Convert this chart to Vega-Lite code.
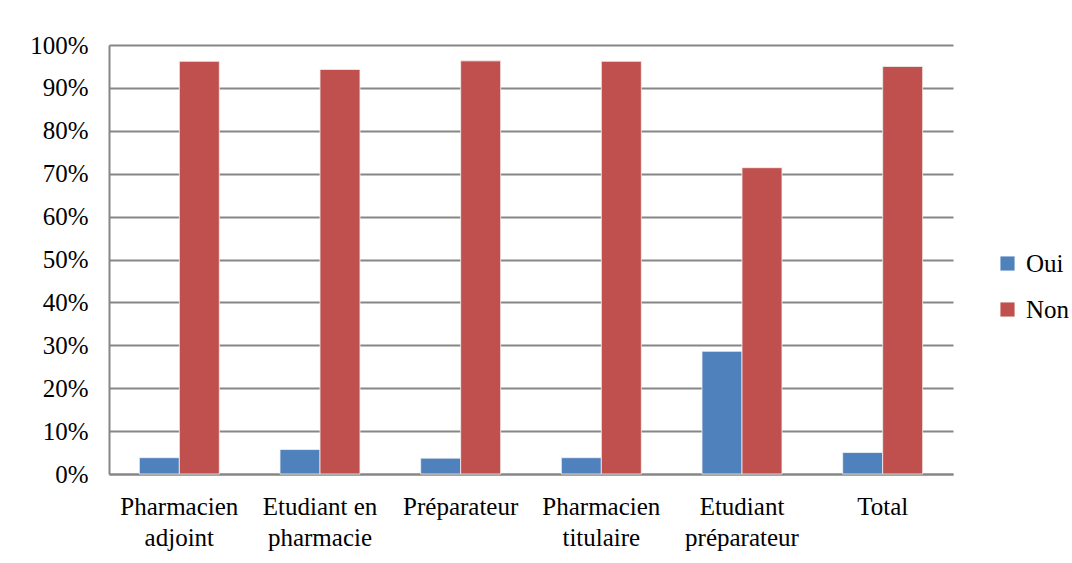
{
  "$schema": "https://vega.github.io/schema/vega-lite/v6.json",
  "autosize": "none",
  "width": 844,
  "height": 429,
  "padding": {"left": 109, "top": 45, "right": 119, "bottom": 89},
  "background": "white",
  "data": {
    "values": [
      {"categorie": "Pharmacien adjoint", "reponse": "Oui", "pct": 0.038},
      {"categorie": "Pharmacien adjoint", "reponse": "Non", "pct": 0.962},
      {"categorie": "Etudiant en pharmacie", "reponse": "Oui", "pct": 0.057},
      {"categorie": "Etudiant en pharmacie", "reponse": "Non", "pct": 0.943},
      {"categorie": "Préparateur", "reponse": "Oui", "pct": 0.037},
      {"categorie": "Préparateur", "reponse": "Non", "pct": 0.963},
      {"categorie": "Pharmacien titulaire", "reponse": "Oui", "pct": 0.038},
      {"categorie": "Pharmacien titulaire", "reponse": "Non", "pct": 0.962},
      {"categorie": "Etudiant préparateur", "reponse": "Oui", "pct": 0.286},
      {"categorie": "Etudiant préparateur", "reponse": "Non", "pct": 0.714},
      {"categorie": "Total", "reponse": "Oui", "pct": 0.050},
      {"categorie": "Total", "reponse": "Non", "pct": 0.950}
    ]
  },
  "mark": {"type": "bar", "stroke": "#f2f2f2", "strokeWidth": 0.8},
  "encoding": {
    "x": {
      "field": "categorie",
      "type": "nominal",
      "sort": null,
      "title": null,
      "scale": {"paddingInner": 0.4314, "paddingOuter": 0.2157},
      "axis": {
        "labelAngle": 0,
        "labelExpr": "datum.value == 'Etudiant en pharmacie' ? ['Etudiant en', 'pharmacie'] : split(datum.value, ' ')",
        "labelLineHeight": 31,
        "labelPadding": 20,
        "ticks": false,
        "domainColor": "#868686",
        "domainWidth": 2,
        "labelFont": "Liberation Serif",
        "labelFontSize": 25,
        "labelColor": "#000000"
      }
    },
    "xOffset": {"field": "reponse", "type": "nominal", "sort": ["Oui", "Non"]},
    "y": {
      "field": "pct",
      "type": "quantitative",
      "title": null,
      "scale": {"domain": [0, 1], "nice": false},
      "axis": {
        "values": [0, 0.1, 0.2, 0.3, 0.4, 0.5, 0.6, 0.7, 0.8, 0.9, 1],
        "format": ".0%",
        "ticks": false,
        "labelPadding": 21,
        "grid": true,
        "gridColor": "#868686",
        "gridWidth": 2,
        "domainColor": "#868686",
        "domainWidth": 2,
        "labelFont": "Liberation Serif",
        "labelFontSize": 25,
        "labelColor": "#000000"
      }
    },
    "color": {
      "field": "reponse",
      "type": "nominal",
      "sort": ["Oui", "Non"],
      "scale": {"domain": ["Oui", "Non"], "range": ["#4F81BD", "#C0504D"]},
      "legend": {
        "title": null,
        "orient": "none",
        "legendX": 886,
        "legendY": 206,
        "symbolType": "square",
        "symbolSize": 200,
        "symbolStrokeWidth": 0,
        "rowPadding": 20,
        "labelOffset": 6,
        "labelFont": "Liberation Serif",
        "labelFontSize": 25,
        "labelColor": "#000000"
      }
    }
  },
  "config": {
    "view": {"stroke": null},
    "font": "Liberation Serif"
  }
}
